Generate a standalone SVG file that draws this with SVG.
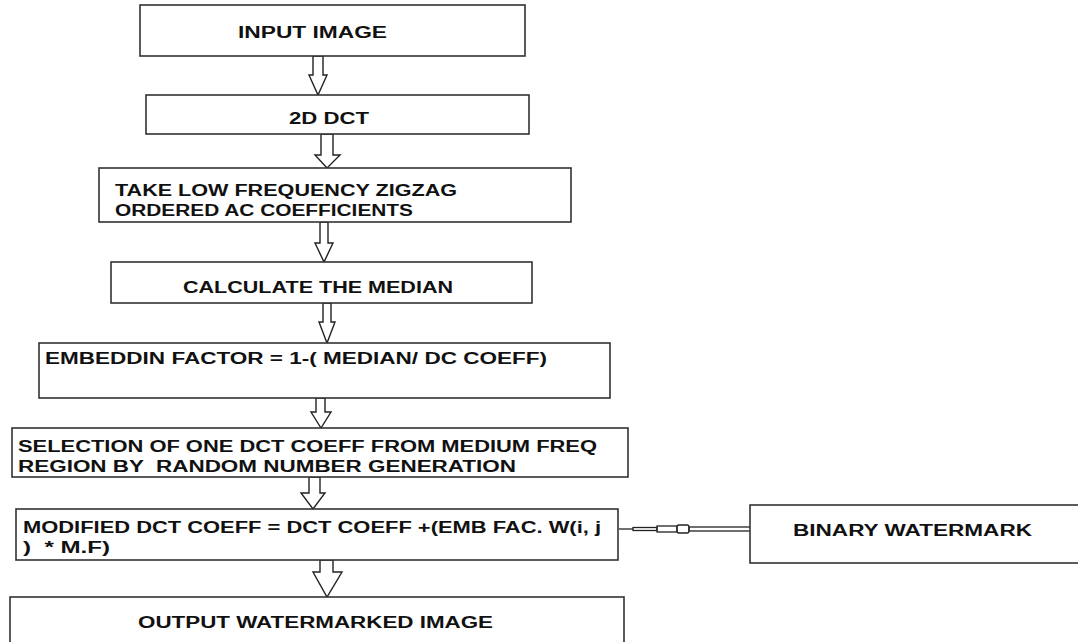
<svg xmlns="http://www.w3.org/2000/svg" width="1078" height="642" viewBox="0 0 1078 642">
<style>
.box{fill:#fff;stroke:#333;stroke-width:1.6}
.t{font-family:"Liberation Sans",Arial,sans-serif;font-weight:bold;font-size:16px;fill:#111}
.arr{fill:#fff;stroke:#222;stroke-width:1.4;stroke-linejoin:miter}
.ln{fill:none;stroke:#222;stroke-width:1.3}
</style>
<rect width="1078" height="642" fill="#fff"/>
<g id="connectors">
<polygon class="arr" points="313,56 313,75 309,75 318,95 327,75 323,75 323,56"/>
<polygon class="arr" points="321,134 321,155 315,155 327,168 340,155 333,155 333,134"/>
<polygon class="arr" points="320,222 320,243 315,243 324,262 333,243 328,243 328,222"/>
<polygon class="arr" points="323,303 323,322 319,322 327,343 335,322 331,322 331,303"/>
<polygon class="arr" points="316,398 316,412 311,412 321,428 331,412 325,412 325,398"/>
<polygon class="arr" points="309,477 309,493 301,493 313,509 325,493 320,493 320,477"/>
<polygon class="arr" points="320,560 320,572 313,572 327,597 342,572 333,572 333,560"/>
<g id="wm-link">
<line class="ln" x1="619" y1="529" x2="633" y2="529"/>
<rect class="ln" x="633" y="527.5" width="24" height="3"/>
<rect class="ln" x="657" y="526" width="20" height="6"/>
<rect class="ln" x="677" y="525" width="12" height="8" rx="2"/>
<rect class="ln" x="689" y="527" width="66" height="4"/>
</g>
</g>
<g id="n1"><rect class="box" x="140" y="5" width="385" height="51"/><text class="t" x="238" y="38" textLength="149" lengthAdjust="spacingAndGlyphs">INPUT IMAGE</text></g>
<g id="n2"><rect class="box" x="146" y="95" width="383" height="39"/><text class="t" x="289" y="124" textLength="80" lengthAdjust="spacingAndGlyphs">2D DCT</text></g>
<g id="n3"><rect class="box" x="99" y="168" width="472" height="54"/><text class="t" x="115" y="196" textLength="342" lengthAdjust="spacingAndGlyphs">TAKE LOW FREQUENCY ZIGZAG</text><text class="t" x="115" y="216" textLength="298" lengthAdjust="spacingAndGlyphs">ORDERED AC COEFFICIENTS</text></g>
<g id="n4"><rect class="box" x="111" y="262" width="421" height="41"/><text class="t" x="183" y="293" textLength="270" lengthAdjust="spacingAndGlyphs">CALCULATE THE MEDIAN</text></g>
<g id="n5"><rect class="box" x="39" y="343" width="571" height="55"/><text class="t" x="45" y="364" textLength="502" lengthAdjust="spacingAndGlyphs">EMBEDDIN FACTOR = 1-( MEDIAN/ DC COEFF)</text></g>
<g id="n6"><rect class="box" x="12" y="428" width="616" height="49"/><text class="t" x="18" y="452" textLength="579" lengthAdjust="spacingAndGlyphs">SELECTION OF ONE DCT COEFF FROM MEDIUM FREQ</text><text class="t" x="18" y="472" textLength="498" lengthAdjust="spacingAndGlyphs" xml:space="preserve">REGION BY  RANDOM NUMBER GENERATION</text></g>
<g id="n7"><rect class="box" x="16" y="509" width="602" height="51"/><text class="t" x="23" y="533" textLength="578" lengthAdjust="spacingAndGlyphs">MODIFIED DCT COEFF = DCT COEFF +(EMB FAC. W(i, j</text><text class="t" x="23" y="553" textLength="87" lengthAdjust="spacingAndGlyphs" xml:space="preserve">)  * M.F)</text></g>
<g id="n8"><rect class="box" x="10" y="597" width="614" height="60"/><text class="t" x="138" y="628" textLength="355" lengthAdjust="spacingAndGlyphs">OUTPUT WATERMARKED IMAGE</text></g>
<g id="n9"><rect class="box" x="750" y="505" width="340" height="58"/><text class="t" x="793" y="536" textLength="239" lengthAdjust="spacingAndGlyphs">BINARY WATERMARK</text></g>
</svg>
